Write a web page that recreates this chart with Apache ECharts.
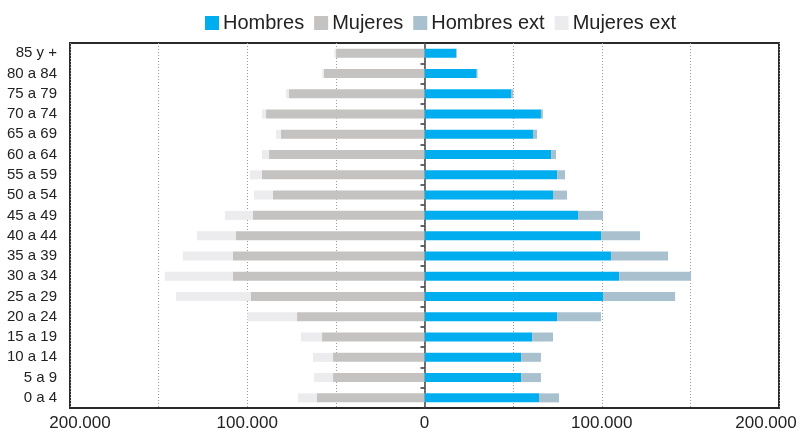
<!DOCTYPE html>
<html>
<head>
<meta charset="utf-8">
<script src="https://cdn.jsdelivr.net/npm/echarts@6/dist/echarts.min.js"></script>
<style>html,body{margin:0;padding:0;background:#fff}#c{width:800px;height:432px}</style>
</head>
<body>
<div id="c"></div>
<script>
// Categories from bottom to top
var categories = ['0 a 4','5 a 9','10 a 14','15 a 19','20 a 24','25 a 29','30 a 34','35 a 39','40 a 44','45 a 49','50 a 54','55 a 59','60 a 64','65 a 69','70 a 74','75 a 79','80 a 84','85 y +'];
var hombres    = [64600, 54500, 54500, 60700, 74800, 100700, 109800, 105200, 99600, 86600, 72500, 74800, 71400, 61200, 65700, 48800, 29450, 17800];
var hombresExt = [11300, 11200, 11200, 11800, 24800, 40700, 40600, 32200, 22000, 14100, 7900, 4500, 2800, 2300, 1100, 1300, 500, 500];
var mujeres    = [60700, 51600, 51600, 57800, 71900, 97900, 108100, 108100, 106400, 96800, 85500, 91700, 87700, 81000, 89400, 76500, 56700, 49900];
var mujeresExt = [10700, 10700, 11300, 11900, 28000, 42300, 38400, 28200, 22000, 15800, 10700, 6800, 4000, 2800, 2300, 1700, 1000, 1000];
var tickLabels = {'-200000':'200.000','-100000':'100.000','0':'0','100000':'100.000','200000':'200.000'};

var neg = function(a){ return a.map(function(v){ return -v; }); };
var chart = echarts.init(document.getElementById('c'), null, {renderer:'canvas'});
var font = 'Liberation Sans, Arial, Helvetica, sans-serif';
chart.setOption({
  animation: false,
  textStyle: {fontFamily: font},
  legend: {
    top: 8, left: 200,
    itemWidth: 14, itemHeight: 14, itemGap: 10,
    icon: 'rect',
    textStyle: {fontSize: 20, color: '#222', fontFamily: font, padding: [0,0,0,-1]},
    data: ['Hombres','Mujeres','Hombres ext','Mujeres ext']
  },
  grid: {left: 70, right: 21, top: 43, bottom: 24, show: true, borderColor: '#2a2a2a', borderWidth: 2, outerBoundsMode: 'none', containLabel: false},
  xAxis: {
    type: 'value', min: -200000, max: 200000, interval: 50000,
    axisLine: {show: false}, axisTick: {show: false},
    splitLine: {show: true, lineStyle: {color: '#999', type: [1,2], width: 1}},
    axisLabel: {
      fontSize: 17, color: '#222', margin: 7, fontFamily: font,
      formatter: function(v){
        var t = tickLabels[String(v)];
        if (t === undefined) return '';
        if (v === -200000) return '{l|' + t + '}';
        if (v === 200000) return '{r|' + t + '}';
        return t;
      },
      rich: {
        l: {fontSize: 17, color: '#222', fontFamily: font, padding: [0,0,0,20]},
        r: {fontSize: 17, color: '#222', fontFamily: font, padding: [0,26,0,0]}
      }
    }
  },
  yAxis: [{
    type: 'category', data: categories, position: 'left',
    axisLine: {show: false, onZero: false}, axisTick: {show: false},
    axisLabel: {fontSize: 15, color: '#222', margin: 13, fontFamily: font}
  }, {
    type: 'category', data: categories, position: 'left',
    axisLine: {show: true, onZero: true, lineStyle: {color: '#444', width: 1.5}},
    axisTick: {show: true, inside: false, length: 4, lineStyle: {color: '#333', width: 1.5}},
    axisLabel: {show: false}, splitLine: {show: false}
  }],
  series: [
    {name: 'Hombres', type: 'bar', stack: 't', data: hombres, barWidth: 9, itemStyle: {color: '#00AEEF'}},
    {name: 'Mujeres', type: 'bar', stack: 't', data: neg(mujeres), barWidth: 9, itemStyle: {color: '#C4C3C1'}},
    {name: 'Hombres ext', type: 'bar', stack: 't', data: hombresExt, barWidth: 9, itemStyle: {color: '#A9C0CF'}},
    {name: 'Mujeres ext', type: 'bar', stack: 't', data: neg(mujeresExt), barWidth: 9, itemStyle: {color: '#ECECEE'}}
  ]
});
</script>
</body>
</html>
